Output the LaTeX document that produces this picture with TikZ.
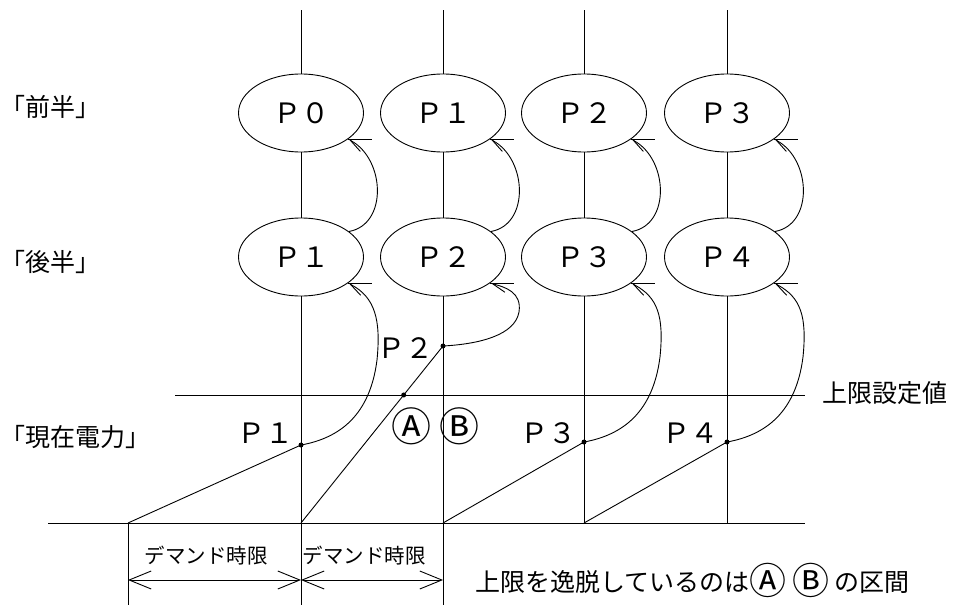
\documentclass[tikz,border=0pt]{standalone}
\usepackage{fontspec}
\setmainfont{Noto Sans CJK JP}
\newcommand\circA{{\fontsize{37}{28}\selectfont\raisebox{-3pt}{Ⓐ}}}
\newcommand\circB{{\fontsize{37}{28}\selectfont\raisebox{-3pt}{Ⓑ}}}
\usetikzlibrary{arrows.meta,shapes.geometric,calc}
\begin{document}
\begin{tikzpicture}[x=1pt,y=-1pt,line width=0.9pt,
  ell/.style={ellipse,draw,fill=white,minimum width=125pt,minimum height=78pt,inner sep=0pt,font=\fontsize{28}{30}\selectfont},
  lbl/.style={font=\fontsize{25}{28}\selectfont,inner sep=0pt},
  plbl/.style={font=\fontsize{28}{30}\selectfont,inner sep=0pt},
  circl/.style={font=\fontsize{40}{42}\selectfont,inner sep=0pt},
  dmd/.style={font=\fontsize{20.5}{23}\selectfont,inner sep=0pt},
  dotn/.style={circle,fill,inner sep=0pt,minimum size=5pt},
  harp/.style={-{Straight Barb[harpoon,length=14pt,width=10pt]}},
  dim/.style={{Straight Barb[length=22pt,width=18pt]}-{Straight Barb[length=22pt,width=18pt]}},
]
\useasboundingbox (0,0) rectangle (954,608);
% ellipses
\node[ell] (a1) at (301,113) {Ｐ０};
\node[ell] (a2) at (443,113) {Ｐ１};
\node[ell] (a3) at (584,113) {Ｐ２};
\node[ell] (a4) at (727,113) {Ｐ３};
\node[ell] (b1) at (301,257) {Ｐ１};
\node[ell] (b2) at (443,257) {Ｐ２};
\node[ell] (b3) at (584,257) {Ｐ３};
\node[ell] (b4) at (727,257) {Ｐ４};
% coordinates
\coordinate (t1) at (301,10);
\coordinate (t2) at (443,10);
\coordinate (t3) at (584,10);
\coordinate (t4) at (727,10);
\coordinate (u1) at (301,605);
\coordinate (u2) at (443,605);
\coordinate (u3) at (584,523);
\coordinate (u4) at (727,523);
\coordinate (g0) at (128,523);
\coordinate (g1) at (301,523);
\coordinate (g2) at (443,523);
\coordinate (g3) at (584,523);
\coordinate (e0) at (128,605);
\coordinate (bl) at (48,523);
\coordinate (br) at (805,523);
\coordinate (ll) at (175,395);
\coordinate (lr) at (805,395);
\node[dotn] (d1) at (301,445) {};
\node[dotn] (d2) at (443,346) {};
\node[dotn] (d3) at (584,442) {};
\node[dotn] (d4) at (727,442) {};
\node[dotn] (x) at ($(g1)!0.7232!(d2)$) {};
% vertical lines
\foreach \i in {1,2,3,4}{
  \draw (t\i) -- (a\i.north);
  \draw (a\i.south) -- (b\i.north);
  \draw (b\i.south) -- (u\i);
}
% base and limit lines
\draw (bl) -- (br);
\draw (ll) -- (lr);
\draw (g0) -- (e0);
% rising lines
\draw (g0) -- (d1.center);
\draw (g1) -- (d2.center);
\draw (g2) -- (d3.center);
\draw (g3) -- (d4.center);
% curved arrows row 2 -> row 1
\foreach \i in {1,2,3,4}{
  \draw[harp] (b\i.28) .. controls ([shift={(39,-7)}]b\i.28) and ([shift={(37,20)}]a\i.-29) .. (a\i.-29);
  \draw (a\i.-29) -- ++(24,0);
  \draw (b\i.-29) -- ++(24,0);
}
% curves current -> row 2
\foreach \i in {1,3,4}{
  \draw[harp] (d\i.center) .. controls ([shift={(39,-7)}]d\i.center) and ([shift={(69,-30)}]d\i.center) .. ([shift={(76,-85)}]d\i.center)
     .. controls ([shift={(80,-125)}]d\i.center) and ([shift={(27,14)}]b\i.-29) .. (b\i.-29);
}
\draw[harp] (d2.center) .. controls ([shift={(37,-2)}]d2.center) and ([shift={(72,-11)}]d2.center) .. ([shift={(76,-34)}]d2.center)
     .. controls ([shift={(79,-54)}]d2.center) and ([shift={(15,4)}]b2.-29) .. (b2.-29);
% labels
\node[lbl,anchor=west] (l1) at (0,107) {「前半」};
\node[lbl,anchor=west] (l2) at (0,262) {「後半」};
\node[lbl,anchor=west] (l3) at (0,437) {「現在電力」};
\node[lbl] (lim) at (885,393) {上限設定値};
\node[plbl] (p1) at (265,433) {Ｐ１};
\node[plbl] (p2) at (405,348) {Ｐ２};
\node[circl] (pa) at (411,426) {Ⓐ};
\node[circl] (pb) at (459,426) {Ⓑ};
\node[plbl] (p3) at (548,433) {Ｐ３};
\node[plbl] (p4) at (690,433) {Ｐ４};
% dimensions
\coordinate (m0) at (128,580);
\coordinate (m1) at (301,580);
\coordinate (m2) at (443,580);
\draw[dim] (m0) -- (m1);
\draw[dim] (m1) -- (m2);
\node[dmd] (dm1) at (206,556) {デマンド時限};
\node[dmd] (dm2) at (364,556) {デマンド時限};
\node[lbl,anchor=west] (note) at (475,580) {上限を逸脱しているのは\circA\ \circB\ の区間};
\end{tikzpicture}
\end{document}
